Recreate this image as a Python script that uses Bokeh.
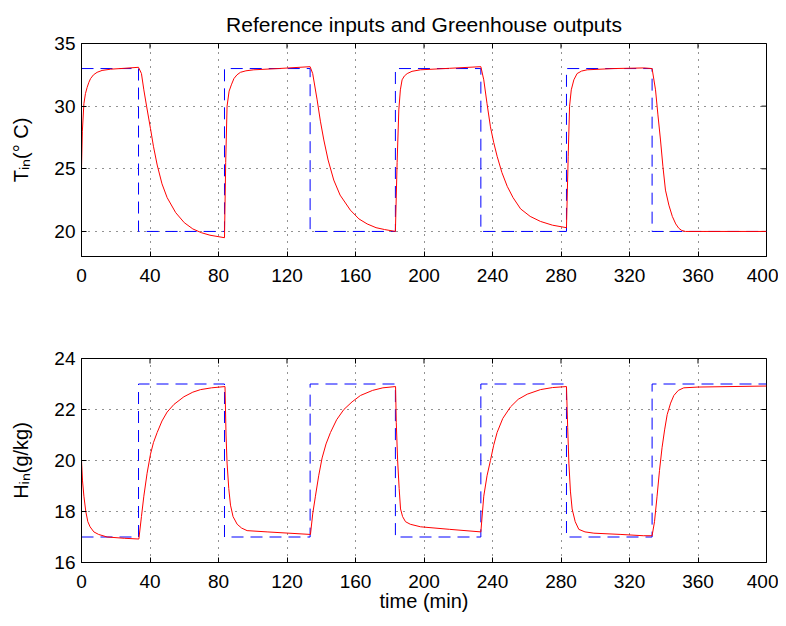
import math
from bokeh.plotting import figure
from bokeh.layouts import column
from bokeh.models import FixedTicker, Range1d
from bokeh.embed import file_html
from bokeh.resources import INLINE

# ---------------- data ----------------
x_ticks = [0, 40, 80, 120, 160, 200, 240, 280, 320, 360, 400]
t_ticks = [20, 25, 30, 35]
h_ticks = [16, 18, 20, 22, 24]

# reference inputs (step signals)
ref_time = [0, 33.3, 33.3, 83.5, 83.5, 133.5, 133.5, 183.3, 183.3, 233.2, 233.2,
            283.2, 283.2, 333.2, 333.2, 400]
ref_temp = [33, 33, 20, 20, 33, 33, 20, 20, 33, 33, 20, 20, 33, 33, 20, 20]
ref_hum = [17, 17, 23, 23, 17, 17, 23, 23, 17, 17, 23, 23, 17, 17, 23, 23]

# greenhouse output: inside temperature
temp_time = [0, 0.5, 1.4, 2.3, 3.3, 4.3, 5.3, 7, 9.1, 12, 17, 25, 33.3,
             35, 36.4, 38, 40.3, 42, 44.2, 47, 50, 55, 60, 65, 70, 75, 83.5,
             84.2, 85, 86.2, 87.5, 89, 90.8, 92.8, 96, 100.6, 115, 133.5,
             135, 137.6, 139.5, 141.5, 144, 147.3, 151, 157, 162, 166.8, 172, 177, 183.3,
             184.3, 185.3, 186.2, 187.2, 188.5, 190.2, 193, 198, 215, 233.2,
             234.9, 236.8, 238.8, 240.7, 242.7, 245.5, 248.6, 252, 256.4, 262, 268, 275, 283.2,
             284.2, 285, 286, 287.5, 289.4, 292, 295.3, 310.9, 328.4, 333.2,
             335.2, 336.6, 338.1, 339.5, 341, 343, 345, 347, 348.8, 350.5, 352.7, 400]
temp_out = [25, 28, 30.2, 31.0, 31.5, 31.9, 32.2, 32.5, 32.7, 32.85, 32.95, 33.02, 33.1,
            32.6, 31.3, 30.0, 28.2, 26.8, 25.3, 23.8, 22.7, 21.5, 20.7, 20.2, 19.9, 19.7, 19.5,
            25.5, 30.0, 31.2, 31.7, 32.2, 32.5, 32.7, 32.82, 32.9, 33.0, 33.15,
            32.6, 30.5, 28.8, 27.3, 25.7, 24.1, 22.9, 21.7, 21.0, 20.6, 20.3, 20.15, 20.0,
            25.5, 29.7, 31.3, 32.1, 32.4, 32.6, 32.78, 32.9, 33.02, 33.15,
            32.1, 30.2, 28.35, 27.1, 26.0, 24.7, 23.6, 22.7, 21.8, 21.2, 20.8, 20.5, 20.3,
            26.0, 30.0, 31.3, 32.1, 32.6, 32.8, 32.9, 33.0, 33.05, 33.0,
            31.3, 29.3, 27.3, 25.2, 23.3, 22.1, 21.2, 20.6, 20.25, 20.08, 20.0, 20.0]

# greenhouse output: inside humidity
hum_time = [0, 0.6, 1.4, 2.5, 3.7, 5, 7.2, 10, 15, 25, 33.5,
            35, 36.4, 38.3, 40.3, 42, 44.2, 47, 50, 54, 59.8, 65, 69.5, 76, 83.8,
            84.4, 85, 86, 87, 88.5, 90.9, 93.5, 96.7, 108.4, 133.7,
            135, 136.6, 138.5, 140.5, 142.8, 145.4, 149, 153.2, 158, 162.9, 170, 176, 183.4,
            183.8, 184.6, 185.5, 186.3, 187.5, 189.2, 192, 198, 215, 233.2,
            234.9, 236.8, 238.8, 240.7, 242.7, 246, 250.5, 255, 260.3, 268, 275, 283.2,
            283.9, 284.6, 285.5, 286.5, 288.3, 290.4, 294, 299.2, 315, 328, 333.2,
            334.6, 336.1, 337.5, 339, 340.5, 342, 344, 345.9, 348.5, 351.7, 360, 400]
hum_out = [20.0, 19.2, 18.6, 18.0, 17.6, 17.4, 17.2, 17.1, 17.0, 16.95, 16.92,
           17.8, 18.6, 19.5, 20.25, 20.7, 21.1, 21.55, 21.9, 22.2, 22.5, 22.68, 22.78, 22.85, 22.9,
           21.0, 19.9, 18.9, 18.25, 17.8, 17.5, 17.35, 17.25, 17.2, 17.1,
           17.9, 18.6, 19.4, 20.1, 20.65, 21.1, 21.6, 22.0, 22.3, 22.55, 22.75, 22.85, 22.9,
           21.5, 20.0, 18.9, 18.1, 17.8, 17.6, 17.5, 17.4, 17.3, 17.2,
           18.6, 19.4, 20.0, 20.6, 21.1, 21.65, 22.1, 22.4, 22.6, 22.78, 22.86, 22.9,
           21.3, 19.9, 18.8, 18.1, 17.6, 17.3, 17.2, 17.15, 17.1, 17.05, 17.05,
           17.6, 18.6, 19.6, 20.5, 21.2, 21.8, 22.25, 22.55, 22.75, 22.85, 22.88, 22.92]

FONT = "Liberation Sans"


def style(p, yticks, ylabel, xlabel=None):
    p.outline_line_color = "black"
    p.outline_line_width = 1
    p.background_fill_color = "white"
    p.border_fill_color = "white"
    for ax in (p.xaxis[0], p.yaxis[0]):
        ax.major_tick_in = 5
        ax.major_tick_out = 0
        ax.minor_tick_line_color = None
        ax.axis_line_color = "black"
        ax.major_tick_line_color = "black"
        ax.major_label_text_font = FONT
        ax.major_label_text_font_size = "19px"
        ax.major_label_text_color = "black"
        ax.axis_label_text_font = FONT
        ax.axis_label_text_font_size = "20px"
        ax.axis_label_text_font_style = "normal"
        ax.axis_label_text_color = "black"
    p.xaxis[0].ticker = FixedTicker(ticks=x_ticks)
    p.yaxis[0].ticker = FixedTicker(ticks=yticks)
    p.xaxis[0].major_label_standoff = 12
    p.yaxis[0].major_label_standoff = 6
    p.yaxis[0].axis_label = ylabel
    p.yaxis[0].axis_label_standoff = 19
    if xlabel:
        p.xaxis[0].axis_label = xlabel
        p.xaxis[0].axis_label_standoff = -1
    for g, ticks in ((p.xgrid[0], x_ticks), (p.ygrid[0], yticks)):
        g.ticker = FixedTicker(ticks=ticks)
        g.grid_line_color = "black"
        g.grid_line_dash = "1 6"
        g.grid_line_width = 1
        g.grid_line_alpha = 0.85
    # mirrored inward ticks on the top and right frame edges (half of each dash is clipped)
    top_y = [p.y_range.end] * len(x_ticks)
    p.scatter(x_ticks, top_y, marker="dash", size=10, angle=math.pi / 2,
              line_color="black", line_width=1)
    right_x = [p.x_range.end] * len(yticks)
    p.scatter(right_x, yticks, marker="dash", size=10,
              line_color="black", line_width=1)


p1 = figure(width=778, height=300, output_backend="svg", toolbar_location=None,
            x_range=Range1d(0, 400), y_range=Range1d(18, 35),
            min_border_left=81, min_border_right=12, min_border_top=43, min_border_bottom=44,
            title="Reference inputs and Greenhouse outputs")
p1.title.align = "center"
p1.title.text_font = FONT
p1.title.text_font_size = "21px"
p1.title.text_font_style = "normal"
p1.title.text_color = "black"
p1.title.standoff = 15
style(p1, t_ticks, "Tᵢₙ(° C)")
p1.line(ref_time, ref_temp, line_color="blue", line_dash="12 7", line_width=1)
p1.line(temp_time, temp_out, line_color="red", line_width=1)

p2 = figure(width=778, height=314, output_backend="svg", toolbar_location=None,
            x_range=Range1d(0, 400), y_range=Range1d(16, 24),
            min_border_left=81, min_border_right=12, min_border_top=58, min_border_bottom=45)
style(p2, h_ticks, "Hᵢₙ(g/kg)", "time (min)")
p2.line(ref_time, ref_hum, line_color="blue", line_dash="12 7", line_width=1)
p2.line(hum_time, hum_out, line_color="red", line_width=1)

layout = column(p1, p2, spacing=0)
open("out.html", "w").write(file_html(layout, INLINE))
